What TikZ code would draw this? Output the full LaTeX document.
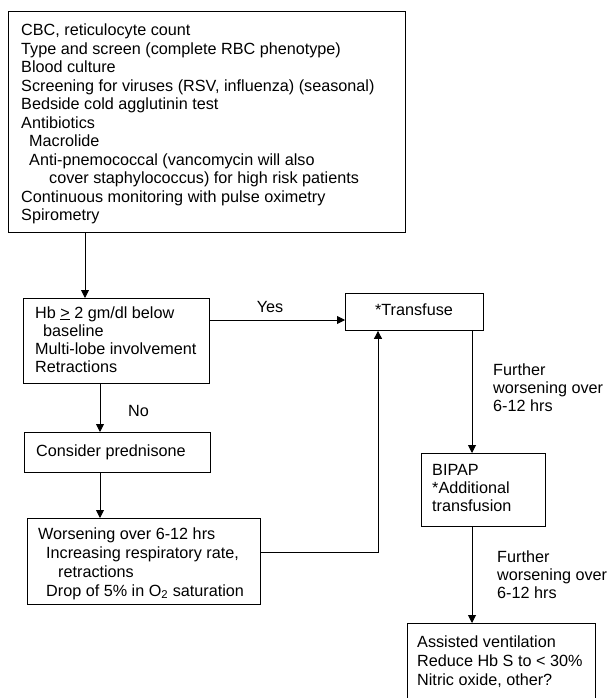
\documentclass[tikz,border=0pt]{standalone}
\usepackage{fontspec}
\setmainfont{Liberation Sans}
\usetikzlibrary{arrows.meta,calc}
\begin{document}
\begin{tikzpicture}[x=1pt,y=-1pt,
  box/.style={draw, line width=0.9pt, rectangle, inner sep=0pt, anchor=north west},
  txt/.style={anchor=base west, inner sep=0pt, font=\fontsize{16.2}{#1}\selectfont},
  txt/.default=18.5,
  arr/.style={line width=0.9pt, -{Triangle[length=8pt,width=8pt]}},
  every node/.append style={text=black}]
\clip (0,0) rectangle (608,698);
\fill[white] (0,0) rectangle (608,698);
\renewcommand{\arraystretch}{1}
% boxes
\node[box, minimum width=397pt, minimum height=221pt] (top) at (8,11) {};
\node[box, minimum width=186pt, minimum height=85pt] (hb) at (23,298) {};
\node[box, minimum width=186pt, minimum height=40pt] (cons) at (24,432) {};
\node[box, minimum width=233pt, minimum height=86pt] (wors) at (27,518) {};
\node[box, minimum width=138pt, minimum height=37pt] (trans) at (345,293) {};
\node[box, minimum width=124pt, minimum height=73pt] (bipap) at (421,453) {};
\node[box, minimum width=188pt, minimum height=90pt] (assist) at (407,623) {};
% texts
\node[txt=18.5] (toptext) at (21,36) {\begin{tabular}[t]{@{}l@{}}
CBC, reticulocyte count\\
Type and screen (complete RBC phenotype)\\
Blood culture\\
Screening for viruses (RSV, influenza) (seasonal)\\
Bedside cold agglutinin test\\
Antibiotics\\
\hspace*{8pt}Macrolide\\
\hspace*{8pt}Anti-pnemococcal (vancomycin will also\\
\hspace*{28pt}cover staphylococcus) for high risk patients\\
Continuous monitoring with pulse oximetry\\
Spirometry
\end{tabular}};
\node[txt=18.2] (hbtext) at (35,318) {\begin{tabular}[t]{@{}l@{}}
Hb \underline{>} 2 gm/dl below\\
\hspace*{8pt}baseline\\
Multi-lobe involvement\\
Retractions
\end{tabular}};
\node[txt] (constext) at (36,456) {Consider prednisone};
\node[txt=19] (worstext) at (38,539) {\begin{tabular}[t]{@{}l@{}}
Worsening over 6-12 hrs\\
\hspace*{8pt}Increasing respiratory rate,\\
\hspace*{20pt}retractions\\
\hspace*{8pt}Drop of 5\% in O\textsubscript{2} saturation
\end{tabular}};
\node[txt, anchor=base] (transtext) at (414,315) {*Transfuse};
\node[txt=18] (bipaptext) at (432,475) {\begin{tabular}[t]{@{}l@{}}
BIPAP\\{}*Additional\\
transfusion
\end{tabular}};
\node[txt=19.2] (assisttext) at (417,647) {\begin{tabular}[t]{@{}l@{}}
Assisted ventilation\\
Reduce Hb S to < 30\%\\
Nitric oxide, other?
\end{tabular}};
% labels
\node[txt, anchor=base] (yes) at (270,312) {Yes};
\node[txt] (no) at (128,416) {No};
\node[txt=18.3] (fw1) at (493,375) {\begin{tabular}[t]{@{}l@{}}
Further\\
worsening over\\
6-12 hrs
\end{tabular}};
\node[txt=18.3] (fw2) at (497,562) {\begin{tabular}[t]{@{}l@{}}
Further\\
worsening over\\
6-12 hrs
\end{tabular}};
% coordinates
\coordinate (c1) at (85,0);
\coordinate (c2) at (100,0);
\coordinate (cy) at (0,320);
\coordinate (cw) at (0,552);
\coordinate (cu) at (378,0);
\coordinate (cr) at (472,0);
% connectors
\draw[arr] (top.south -| c1) -- (hb.north -| c1);
\draw[arr] (hb.east |- cy) -- (trans.west |- cy);
\draw[arr] (hb.south -| c2) -- (cons.north -| c2);
\draw[arr] (cons.south -| c2) -- (wors.north -| c2);
\draw[arr] (wors.east |- cw) -| (trans.south -| cu);
\draw[arr] (trans.south -| cr) -- (bipap.north -| cr);
\draw[arr] (bipap.south -| cr) -- (assist.north -| cr);
\end{tikzpicture}
\end{document}
